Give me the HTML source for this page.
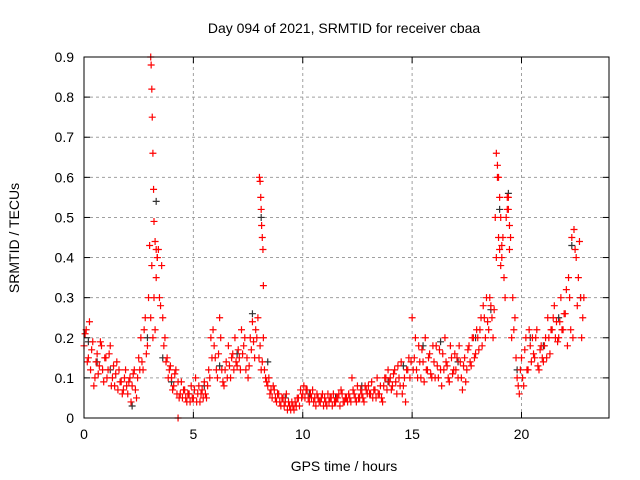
<!DOCTYPE html>
<html><head><meta charset="utf-8"><style>
body{margin:0;background:#fff;}
svg{display:block;font-family:"Liberation Sans",sans-serif;}
</style></head><body>
<svg id="chart" width="640" height="480" viewBox="0 0 640 480">
<rect width="640" height="480" fill="#fff"/>
<g id="grid"></g>
<g id="black"></g>
<g id="red"></g>
<rect x="84" y="57" width="525" height="361" fill="none" stroke="#000" stroke-width="1"/>
<g id="axes"></g>
<text x="344" y="33" font-size="14" text-anchor="middle">Day 094 of 2021, SRMTID for receiver cbaa</text>
<text x="344" y="471" font-size="14" text-anchor="middle">GPS time / hours</text>
<text transform="translate(19,238) rotate(-90)" font-size="14" text-anchor="middle">SRMTID / TECUs</text>
</svg>
<script>
const xTicks=[0,5,10,15,20];
const yTicks=[0,0.1,0.2,0.3,0.4,0.5,0.6,0.7,0.8,0.9];
const redT=[
0,0.1,0.2,0.3,0.4,0.5,0.6,0.7,0.8,0.9,
1,1.1,1.2,1.3,1.4,1.5,1.6,1.7,1.8,1.9,
2,2.1,2.2,2.3,2.4,2.5,2.6,2.7,2.8,2.9,
3,3.1,3.2,3.3,3.4,3.5,3.6,3.7,3.8,3.9,
4,4.1,4.2,4.3,4.4,4.5,4.6,4.7,4.8,4.9,
5,5.1,5.2,5.3,5.4,5.5,5.6,5.7,5.8,5.9,
6,6.1,6.2,6.3,6.4,6.5,6.6,6.7,6.8,6.9,
7,7.1,7.2,7.3,7.4,7.5,7.6,7.7,7.8,7.9,
8,8.1,8.2,8.3,8.4,8.5,8.6,8.7,8.8,8.9,
9,9.1,9.2,9.3,9.4,9.5,9.6,9.7,9.8,9.9,
10,10.1,10.2,10.3,10.4,10.5,10.6,10.7,10.8,10.9,
11,11.1,11.2,11.3,11.4,11.5,11.6,11.7,11.8,11.9,
12,12.1,12.2,12.3,12.4,12.5,12.6,12.7,12.8,12.9,
13,13.1,13.2,13.3,13.4,13.5,13.6,13.7,13.8,13.9,
14,14.1,14.2,14.3,14.4,14.5,14.6,14.7,14.8,14.9,
15,15.1,15.2,15.3,15.4,15.5,15.6,15.7,15.8,15.9,
16,16.1,16.2,16.3,16.4,16.5,16.6,16.7,16.8,16.9,
17,17.1,17.2,17.3,17.4,17.5,17.6,17.7,17.8,17.9,
18,18.1,18.2,18.3,18.4,18.5,18.6,18.7,18.8,18.9,
19,19.1,19.2,19.3,19.4,19.5,19.6,19.7,19.8,19.9,
20,20.1,20.2,20.3,20.4,20.5,20.6,20.7,20.8,20.9,
21,21.1,21.2,21.3,21.4,21.5,21.6,21.7,21.8,21.9,
22,22.1,22.2,22.3,22.4,22.5,22.6,22.7,22.8];
const redV1=[
.18,.22,.15,.12,.19,.1,.16,.13,.18,.09,
.15,.12,.18,.1,.08,.14,.12,.09,.07,.12,
.06,.1,.08,.12,.05,.15,.2,.12,.25,.18,
.43,.38,.3,.35,.42,.28,.25,.2,.15,.12,
.1,.08,.12,.09,.06,.05,.07,.04,.06,.08,
.05,.1,.06,.04,.07,.09,.05,.12,.2,.22,
.15,.1,.25,.12,.08,.14,.18,.1,.16,.2,
.13,.15,.22,.18,.12,.1,.2,.24,.15,.2,
.15,.12,.2,.1,.08,.06,.05,.07,.04,.06,
.03,.05,.04,.02,.03,.04,.02,.03,.05,.07,
.06,.05,.07,.04,.05,.04,.03,.05,.04,.06,
.05,.03,.04,.05,.06,.04,.05,.03,.06,.04,
.05,.06,.04,.07,.05,.08,.05,.06,.04,.07,
.08,.06,.05,.07,.1,.06,.05,.08,.1,.12,
.1,.08,.12,.06,.1,.14,.08,.04,.12,.1,
.25,.15,.12,.18,.1,.14,.2,.12,.16,.1,
.14,.18,.1,.12,.16,.2,.13,.09,.15,.12,
.12,.1,.14,.07,.15,.12,.18,.13,.2,.16,
.2,.22,.18,.25,.3,.22,.28,.2,.5,.6,
.42,.4,.35,.5,.55,.45,.3,.25,.1,.06,
.15,.08,.2,.12,.18,.2,.15,.22,.12,.18,
.14,.2,.25,.16,.22,.28,.24,.2,.3,.22,
.26,.18,.3,.45,.47,.4,.35,.3,.25];
const redV2=[
.21,.14,.24,.17,.08,.14,.11,.19,.12,.15,
.1,.16,.08,.13,.11,.07,.09,.06,.1,.08,
.09,.04,.11,.07,.1,.12,.14,.22,.16,.3,
.25,.2,.22,.4,.3,.38,.18,.14,.1,.13,
.07,.11,.06,.05,.09,.07,.05,.06,.04,.05,
.07,.04,.08,.06,.05,.06,.08,.1,.15,.18,
.12,.16,.2,.09,.12,.1,.13,.15,.12,.14,
.17,.12,.16,.2,.15,.13,.17,.19,.22,.25,
.18,.14,.12,.09,.1,.07,.08,.05,.06,.04,
.05,.03,.06,.04,.02,.03,.04,.05,.03,.05,
.08,.07,.05,.06,.07,.05,.06,.04,.05,.03,
.04,.06,.05,.03,.04,.05,.06,.07,.04,.05,
.04,.05,.1,.06,.04,.05,.07,.05,.08,.06,
.06,.09,.07,.05,.06,.08,.04,.1,.07,.09,
.07,.11,.09,.13,.08,.06,.1,.12,.15,.14,
.12,.2,.1,.14,.17,.09,.12,.15,.11,.18,
.1,.13,.17,.08,.12,.14,.1,.18,.11,.16,
.15,.18,.1,.13,.09,.17,.14,.2,.15,.22,
.17,.25,.28,.2,.24,.3,.25,.27,.4,.45,
.38,.45,.3,.52,.42,.2,.22,.15,.08,.12,
.1,.17,.12,.22,.14,.16,.2,.13,.17,.15,
.18,.15,.2,.22,.25,.2,.19,.24,.22,.26,
.32,.35,.22,.2,.42,.28,.44,.2,.3];
const peakT=[3.05,3.07,3.1,3.12,3.15,3.18,3.2,3.25,3.3,3.35,8.02,8.05,8.08,8.1,8.12,8.15,8.18,8.2,18.85,18.9,18.95,19.0,19.05,19.1,19.35,19.4,19.45,4.3];
const peakV=[0.9,0.88,0.82,0.75,0.66,0.57,0.49,0.44,0.42,0.4,0.6,0.59,0.55,0.52,0.48,0.45,0.42,0.33,0.66,0.63,0.6,0.55,0.5,0.43,0.55,0.52,0.48,0.0];
const blackT=[0.2,0.6,1.2,2.2,2.9,3.3,3.6,4.0,4.8,5.5,6.2,7.0,7.7,8.1,8.4,9.2,10.3,11.5,12.7,13.9,14.6,15.5,16.3,17.1,17.9,18.6,19.0,19.4,19.8,20.4,21.0,21.7,22.3,22.7];
const blackV=[0.19,0.14,0.12,0.03,0.2,0.54,0.15,0.09,0.06,0.08,0.13,0.16,0.26,0.5,0.14,0.05,0.06,0.05,0.08,0.09,0.13,0.18,0.19,0.14,0.2,0.27,0.52,0.56,0.12,0.2,0.18,0.25,0.43,0.3];
const X0=84,X1=609,Y0=418,Y1=57,XMAX=24,YMAX=0.9;
const xs=t=>X0+t/XMAX*(X1-X0);
const ys=v=>Y0-v/YMAX*(Y0-Y1);
const NS="http://www.w3.org/2000/svg";
function mk(tag,attrs,parent){const e=document.createElementNS(NS,tag);for(const k in attrs)e.setAttribute(k,attrs[k]);parent.appendChild(e);return e;}
const grid=document.getElementById('grid'),axes=document.getElementById('axes');
xTicks.forEach(t=>{const x=xs(t);
 if(t>0){const g=mk('line',{x1:x,x2:x,y1:Y0,y2:Y1,stroke:'#a0a0a0','stroke-dasharray':'3,3'},grid);
 
 }
 const l=mk('text',{x:x,y:Y0+21,'font-size':14,'text-anchor':'middle'},axes);l.textContent=t;
 
 
 mk('line',{x1:x,x2:x,y1:Y0,y2:Y0-6,stroke:'#000'},axes);mk('line',{x1:x,x2:x,y1:Y1,y2:Y1+6,stroke:'#000'},axes);});
yTicks.forEach(v=>{const y=ys(v);
 if(v>0&&v<0.9){const g=mk('line',{x1:X0,x2:X1,y1:y,y2:y,stroke:'#a0a0a0','stroke-dasharray':'3,3'},grid);
 
 }
 const l=mk('text',{x:X0-10,y:y+5,'font-size':14,'text-anchor':'end'},axes);l.textContent=v===0?'0':v.toFixed(1);
 
 
 mk('line',{x1:X0,x2:X0+6,y1:y,y2:y,stroke:'#000'},axes);mk('line',{x1:X1,x2:X1-6,y1:y,y2:y,stroke:'#000'},axes);});
function plus(parent,t,v,c,name){const x=xs(t),y=ys(v);
 const p=mk('path',{d:`M${x-3.5},${y}h7M${x},${y-3.5}v7`,stroke:c,'stroke-width':1.2,fill:'none'},parent);
 
 }
const bg=document.getElementById('black'),rg=document.getElementById('red');
blackT.forEach((t,i)=>plus(bg,t,blackV[i],'#333','black-point'));
redT.forEach((t,i)=>plus(rg,t,redV1[i],'#f00','red-point'));
redT.forEach((t,i)=>plus(rg,t+0.05,redV2[i],'#f00','red-point'));
peakT.forEach((t,i)=>plus(rg,t,peakV[i],'#f00','red-peak-point'));
</script>
</body></html>
